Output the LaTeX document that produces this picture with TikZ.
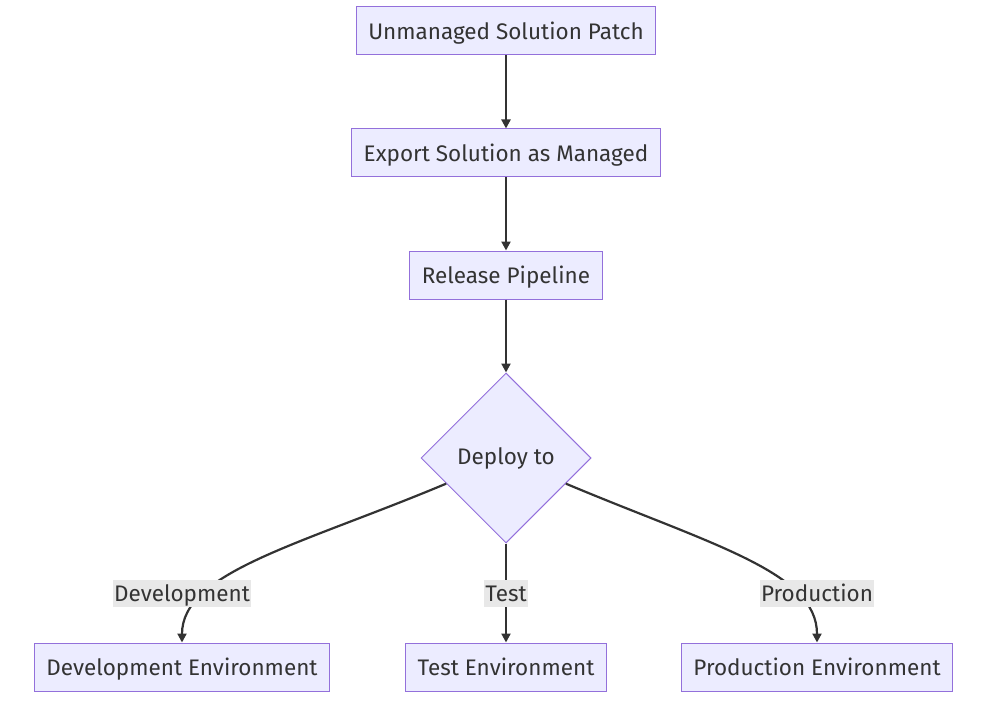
\documentclass[tikz,border=0pt]{standalone}
\usepackage{fontspec}
\setmainfont{Fira Sans}
\usetikzlibrary{arrows.meta, shapes.geometric, calc}
\definecolor{cfill}{HTML}{ECECFF}
\definecolor{cline}{HTML}{9370DB}
\definecolor{cdark}{HTML}{333333}
\definecolor{clabel}{HTML}{E8E8E8}
\tikzset{
  every picture/.style={x=1pt, y=-1pt},
  box/.style={draw=cline, fill=cfill, line width=1pt, text=cdark, minimum height=48pt, inner xsep=12pt, text height=22pt, text depth=5pt, font=\fontsize{22.5}{26}\selectfont},
  decision/.style={diamond, draw=cline, fill=cfill, line width=1pt, text=cdark, minimum width=170pt, minimum height=170pt, inner sep=0pt, font=\fontsize{22.5}{26}\selectfont},
  arrow/.style={-{Triangle[length=9pt, width=9pt]}, draw=cdark, line width=2.2pt},
  edgelabel/.style={fill=clabel, text=cdark, inner xsep=1pt, inner ysep=0pt, text height=22pt, text depth=5pt, font=\fontsize{22.5}{26}\selectfont},
}

\begin{document}
\begin{tikzpicture}
  \useasboundingbox (0,0) rectangle (995,722);
  \node[box] (patch) at (506,31) {Unmanaged Solution Patch};
  \node[box] (export) at (506,153) {Export Solution as Managed};
  \node[box] (pipeline) at (506,275) {Release Pipeline};
  \node[decision] (deploy) at (506,458) {Deploy to};
  \node[box] (devenv) at (182,667) {Development Environment};
  \node[box] (testenv) at (506,667) {Test Environment};
  \node[box] (prodenv) at (817,667) {Production Environment};
  % straight links down the chain
  \draw[arrow] (patch) -- (export);
  \draw[arrow] (export) -- (pipeline);
  \draw[arrow] (pipeline) -- (deploy);
  % branches out of the decision
  \coordinate (devout) at ($(deploy.west)!0.3!(deploy.south)$);
  \coordinate (prodout) at ($(deploy.east)!0.3!(deploy.south)$);
  \draw[arrow] (devout) .. controls (300,545) and (182,572) .. (devenv.north);
  \draw[arrow] (deploy) -- (testenv);
  \draw[arrow] (prodout) .. controls (712,545) and (817,572) .. (prodenv.north);
  \node[edgelabel] (devlbl) at (182,593) {Development};
  \node[edgelabel] (testlbl) at (506,593) {Test};
  \node[edgelabel] (prodlbl) at (817,593) {Production};
\end{tikzpicture}
\end{document}
